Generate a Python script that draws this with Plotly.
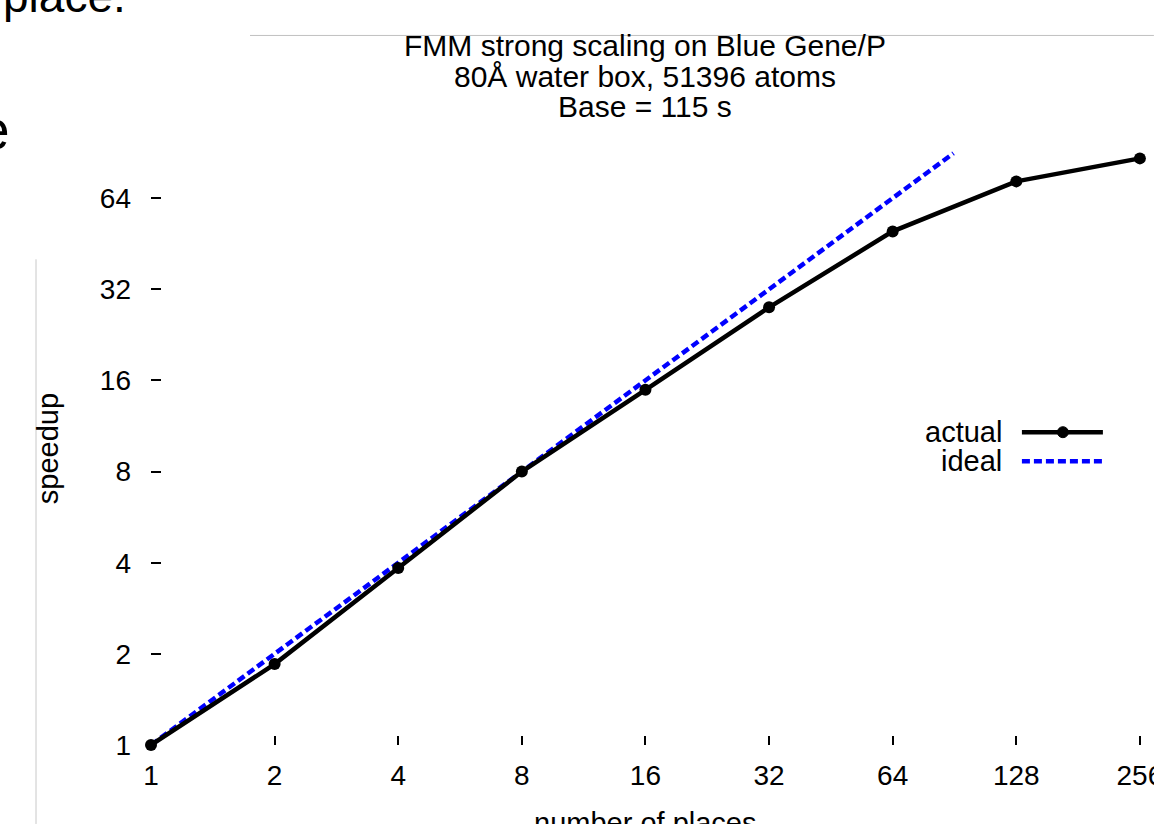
import plotly.graph_objects as go
import math

# ---- data ----
places = [1, 2, 4, 8, 16, 32, 64, 128, 256]
actual_speedup = [1, 1.85, 3.84, 8, 14.9, 27.9, 49.7, 72.7, 86.6]
ideal_x = [1, 90]
ideal_y = [1, 90]
x_ticks = [1, 2, 4, 8, 16, 32, 64, 128, 256]
y_ticks = [1, 2, 4, 8, 16, 32, 64]
title_lines = ["FMM strong scaling on Blue Gene/P", "80Å water box, 51396 atoms", "Base = 115 s"]

W, H = 1154, 824
# pixel placement of the axes (1 -> x=151, 256 -> x=1140; 1 -> y=745, 128 -> y=106.6)
X0, X256 = 151, 1140
XMAX_LOG = math.log10(256) + 0.01
L = X0
PW = (X256 - X0) * XMAX_LOG / math.log10(256)
R = W - L - PW
T, B = 106.6, 79
PH = H - T - B

def px(xp):
    return (xp - L) / PW

def py(yp):
    return (H - B - yp) / PH

FONT = "Liberation Sans, Arial, sans-serif"

fig = go.Figure()
fig.add_trace(go.Scatter(x=ideal_x, y=ideal_y, mode="lines",
                         line=dict(color="#0000ff", width=4.5, dash="8px,4px"),
                         cliponaxis=False, showlegend=False))
fig.add_trace(go.Scatter(x=places, y=actual_speedup, mode="lines+markers",
                         line=dict(color="black", width=4.5),
                         marker=dict(color="black", size=12),
                         cliponaxis=False, showlegend=False))

fig.update_xaxes(type="log", range=[0, XMAX_LOG], tickvals=x_ticks,
                 ticktext=[str(v) for v in x_ticks], ticks="inside", ticklen=9,
                 tickwidth=1.5, tickcolor="black", showgrid=False, zeroline=False,
                 showline=False, automargin=False, ticklabeloverflow="allow",
                 tickfont=dict(family=FONT, size=28, color="black"),
                 ticklabelstandoff=11)
fig.update_yaxes(type="log", range=[0, math.log10(128)], tickvals=y_ticks,
                 ticktext=[str(v) for v in y_ticks], ticks="inside", ticklen=10,
                 tickwidth=1.5, tickcolor="black", showgrid=False, zeroline=False,
                 showline=False, automargin=False, ticklabeloverflow="allow",
                 tickfont=dict(family=FONT, size=28, color="black"),
                 ticklabelstandoff=19)

ann = []
# title
for i, t in enumerate(title_lines):
    ann.append(dict(text=t, x=px(645), y=py([45, 76, 106.5][i]), xref="paper", yref="paper",
                    showarrow=False, xanchor="center", yanchor="middle",
                    font=dict(family=FONT, size=30, color="black")))
# axis titles
ann.append(dict(text="speedup", x=px(48), y=py(449), xref="paper", yref="paper", textangle=-90,
                showarrow=False, xanchor="center", yanchor="middle",
                font=dict(family=FONT, size=29, color="black")))
ann.append(dict(text="number of places", x=px(645), y=py(823), xref="paper", yref="paper",
                showarrow=False, xanchor="center", yanchor="middle",
                font=dict(family=FONT, size=29, color="black")))
# legend text
ann.append(dict(text="actual", x=px(1004), y=py(432), xref="paper", yref="paper",
                showarrow=False, xanchor="right", yanchor="middle",
                font=dict(family=FONT, size=29, color="black")))
ann.append(dict(text="ideal", x=px(1004), y=py(461), xref="paper", yref="paper",
                showarrow=False, xanchor="right", yanchor="middle",
                font=dict(family=FONT, size=29, color="black")))
# slide fragments (cut by the page edge)
ann.append(dict(text="place.", x=px(1), y=py(-4), xref="paper", yref="paper",
                showarrow=False, xanchor="left", yanchor="middle",
                font=dict(family=FONT, size=46, color="black")))
ann.append(dict(text="e", x=px(12), y=py(130), xref="paper", yref="paper",
                showarrow=False, xanchor="right", yanchor="middle",
                font=dict(family=FONT, size=55, color="black")))

shapes = [
    dict(type="line", xref="paper", yref="paper", x0=px(1022), x1=px(1103), y0=py(432), y1=py(432),
         line=dict(color="black", width=4.5)),
    dict(type="circle", xref="paper", yref="paper", x0=px(1057.5), x1=px(1068.5), y0=py(426.5), y1=py(437.5),
         fillcolor="black", line=dict(color="black", width=1)),
    dict(type="line", xref="paper", yref="paper", x0=px(1022), x1=px(1103), y0=py(461), y1=py(461),
         line=dict(color="#0000ff", width=4.5, dash="8px,4px")),
    dict(type="line", xref="paper", yref="paper", x0=px(250), x1=px(1154), y0=py(35), y1=py(35),
         line=dict(color="#c0c0c0", width=1)),
    dict(type="line", xref="paper", yref="paper", x0=px(36), x1=px(36), y0=py(259), y1=py(824),
         line=dict(color="#c8c8c8", width=1)),
]

fig.update_layout(width=W, height=H, autosize=False,
                  margin=dict(l=L, r=R, t=T, b=B, pad=0),
                  paper_bgcolor="white", plot_bgcolor="white",
                  annotations=ann, shapes=shapes, showlegend=False)

fig.write_html("out.html")
